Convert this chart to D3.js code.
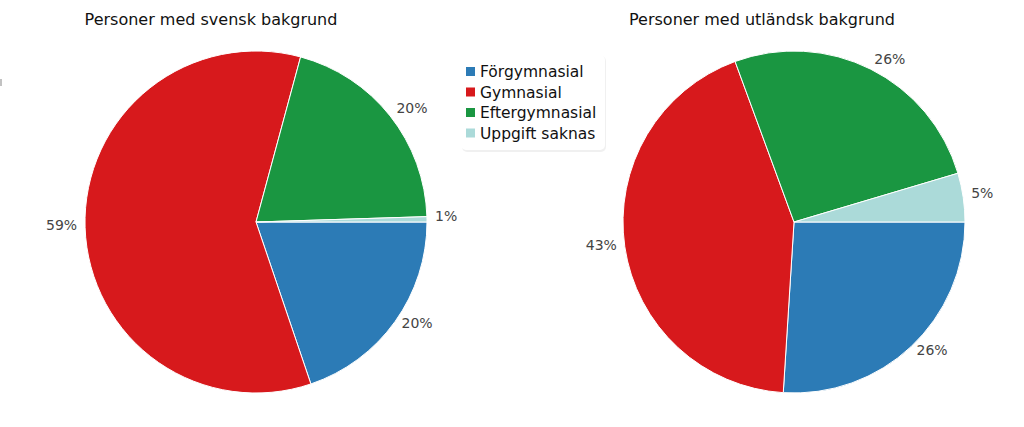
<!DOCTYPE html>
<html><head><meta charset="utf-8">
<script src="https://cdn.jsdelivr.net/npm/d3@7"></script>
<style>body{margin:0;background:#fff;} svg{display:block;font-family:"DejaVu Sans",Verdana,sans-serif;}</style>
</head><body>
<svg id="c" width="1024" height="427"></svg>
<script>
const categories = ["Förgymnasial","Gymnasial","Eftergymnasial","Uppgift saknas"];
const colors = ["#2c7bb6","#d7191c","#1a9641","#abdad9"];
const titles = ["Personer med svensk bakgrund","Personer med utländsk bakgrund"];
const svenskValues = [19.8, 59.4, 20.3, 0.5];
const utlandskValues = [26.0, 43.4, 26.0, 4.6];
const labelsSvensk = ["20%","59%","20%","1%"];
const labelsUtlandsk = ["26%","43%","26%","5%"];

const svg = d3.select("#c");
const r = 171;
const pies = [
  {cx:256, cy:222, tx:211, values:svenskValues, labels:labelsSvensk, title:titles[0]},
  {cx:794, cy:222, tx:762, values:utlandskValues, labels:labelsUtlandsk, title:titles[1]}
];
const pie = d3.pie().sort(null).startAngle(Math.PI/2).endAngle(Math.PI/2 + 2*Math.PI);
const arc = d3.arc().innerRadius(0).outerRadius(r);

pies.forEach(p => {
  svg.append("text").attr("x", p.tx).attr("y", 25).attr("text-anchor","middle")
    .attr("font-size", 16).attr("fill","#111").text(p.title);
  const g = svg.append("g").attr("transform", `translate(${p.cx},${p.cy})`);
  const arcs = pie(p.values);
  g.selectAll("path").data(arcs).enter().append("path")
    .attr("d", arc).attr("fill", (d,i)=>colors[i]).attr("stroke","#fff").attr("stroke-width",1);
  g.selectAll("text").data(arcs).enter().append("text")
    .each(function(d,i){
      const a = (d.startAngle + d.endAngle)/2;
      const R = r + 8;
      const x = R*Math.sin(a), y = -R*Math.cos(a);
      d3.select(this).attr("x", x).attr("y", y).attr("dy","0.15em")
        .attr("text-anchor", x >= 0 ? "start" : "end")
        .attr("font-size", 14).attr("fill","#444").text(p.labels[i]);
    });
});

// legend
const lg = svg.append("g").attr("transform","translate(461,55)");
lg.append("rect").attr("x",1).attr("y",1).attr("width",144).attr("height",96).attr("rx",5)
  .attr("fill","#000").attr("opacity",0.06);
lg.append("rect").attr("width",144).attr("height",95).attr("rx",5).attr("fill","#fff");
categories.forEach((c,i)=>{
  const y = 17 + i*20.5;
  lg.append("rect").attr("x",5).attr("y",y-5).attr("width",9).attr("height",9).attr("fill",colors[i]);
  lg.append("text").attr("x",19).attr("y",y).attr("dy","0.35em").attr("font-size",15.5).attr("fill","#111").text(c);
});
svg.append("rect").attr("x",0).attr("y",79).attr("width",2).attr("height",7).attr("fill","#999").attr("opacity",0.6);
</script>
</body></html>
